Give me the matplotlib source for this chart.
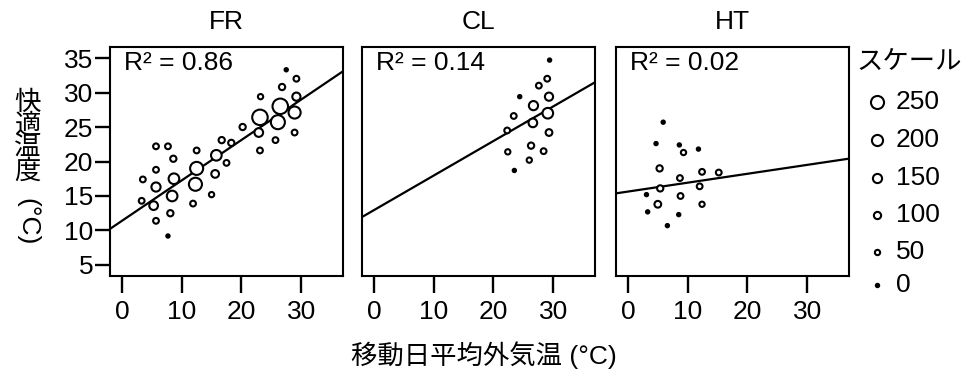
import numpy as np
import matplotlib.pyplot as plt

plt.rcParams['font.family'] = ['Liberation Sans', 'Noto Sans CJK JP', 'DejaVu Sans']

# ---------------------------------------------------------------
# data
# ---------------------------------------------------------------
panels = ["FR", "CL", "HT"]
r2_values = ["0.86", "0.14", "0.02"]

# regression line (intercept, slope)
fit_intercept = [11.4, 12.95, 15.64]
fit_slope = [0.586, 0.501, 0.129]

fr_x = [3.5, 3.3, 5.7, 5.7, 5.7, 5.3, 5.7, 7.7, 7.7, 8.1, 8.6, 8.7, 8.4,
        11.9, 12.5, 12.3, 12.5, 15.0, 15.6, 15.8, 16.7, 17.5, 18.3, 20.2,
        23.1, 22.9, 23.1, 23.2, 25.7, 26.1, 26.5, 26.8, 27.5, 28.9, 29.2,
        29.2, 28.9]
fr_y = [17.4, 14.3, 18.8, 22.2, 16.3, 13.6, 11.4, 22.2, 9.2, 12.5, 20.4,
        17.5, 15.0, 13.9, 21.6, 16.7, 19.0, 15.2, 18.2, 20.9, 23.1, 19.8,
        22.7, 25.0, 21.6, 24.2, 26.4, 29.4, 23.1, 25.7, 28.0, 30.8, 33.3,
        27.1, 29.4, 32.0, 24.2]
fr_n = [50, 50, 50, 50, 120, 110, 50, 50, 0, 60, 60, 150, 150,
        50, 50, 200, 200, 40, 90, 150, 60, 50, 60, 60,
        50, 110, 250, 40, 50, 220, 250, 60, 0, 180, 100,
        50, 50]

cl_x = [29.4, 29.0, 27.6, 24.4, 29.3, 26.7, 29.1, 23.4, 26.6, 22.3, 29.3,
        26.3, 28.4, 22.4, 26.0, 23.5]
cl_y = [34.7, 32.0, 31.0, 29.4, 29.4, 28.1, 27.0, 26.6, 25.6, 24.5, 24.2,
        22.3, 21.5, 21.4, 20.2, 18.7]
cl_n = [0, 50, 50, 0, 100, 120, 150, 50, 110, 50, 70,
        60, 50, 40, 40, 0]

ht_x = [5.9, 4.7, 8.6, 9.3, 11.8, 5.3, 12.4, 15.2, 8.7, 5.4, 12.0, 3.1,
        8.8, 5.0, 12.4, 3.3, 8.5, 6.6]
ht_y = [25.7, 22.6, 22.4, 21.3, 21.8, 19.0, 18.5, 18.4, 17.6, 16.1, 16.4,
        15.2, 15.0, 13.8, 13.8, 12.7, 12.3, 10.7]
ht_n = [0, 0, 0, 40, 0, 60, 50, 50, 50, 60, 50, 0,
        50, 70, 40, 0, 0, 0]

legend_values = [250, 200, 150, 100, 50, 0]

xticks = [0, 10, 20, 30]
yticks = [5, 10, 15, 20, 25, 30, 35]

FS = 19


def marker_size(n):
    # diameter in points grows linearly with the scale value
    d = 2.4 + 0.035 * np.asarray(n, dtype=float)
    return d ** 2


def draw_points(ax, xs, ys, ns):
    ns = np.asarray(ns)
    face = np.where(ns == 0, "black", "white")
    ax.scatter(xs, ys, s=marker_size(ns), facecolors=face,
               edgecolors="black", linewidths=1.5, zorder=3)


fig = plt.figure(figsize=(9.68, 3.76), dpi=100)

lefts = [110, 362, 616]
width = 233
axes = []
for left in lefts:
    ax = fig.add_axes([left / 968, 1 - 276 / 376, width / 968, 229 / 376])
    axes.append(ax)

data = [(fr_x, fr_y, fr_n), (cl_x, cl_y, cl_n), (ht_x, ht_y, ht_n)]

for i, ax in enumerate(axes):
    xs, ys, ns = data[i]
    ax.set_xlim(-2, 37)
    ax.set_ylim(3.4, 36.6)

    ax.axline((0, fit_intercept[i]), slope=fit_slope[i],
              color="black", linewidth=1.6, zorder=2)
    draw_points(ax, xs, ys, ns)

    ax.text(0.06, 0.93, f"R² = {r2_values[i]}", transform=ax.transAxes,
            ha="left", va="center", fontsize=FS)
    ax.set_title(panels[i], fontsize=FS, pad=13)

    ax.set_xticks(xticks)
    ax.set_yticks(yticks)
    ax.tick_params(direction="out", width=1.7, labelsize=FS)
    ax.tick_params(axis="x", length=12, pad=5)
    ax.tick_params(axis="y", length=11, pad=1)
    if i > 0:
        ax.tick_params(axis="y", left=False, labelleft=False)

    for sp in ax.spines.values():
        sp.set_linewidth(1.5)

# y label: stacked characters, then rotated unit
fig.text(27 / 968, 1 - 90 / 376, "快\n適\n温\n度", ha="center", va="top",
         fontsize=FS, linespacing=0.93)
fig.text(27 / 968, 1 - 198 / 376, "(°C)", ha="center", va="top",
         fontsize=FS, rotation=-90)

fig.text(484 / 968, 1 - 355 / 376, "移動日平均外気温 (°C)", ha="center",
         va="center", fontsize=FS)

# size legend
fig.text(856 / 968, 1 - 62 / 376, "スケール", ha="left", va="center",
         fontsize=FS)
leg_y = [102, 140, 178, 215, 252, 285]
leg_ax = fig.add_axes([850 / 968, 0, 118 / 968, 1])
leg_ax.set_xlim(850, 968)
leg_ax.set_ylim(376, 0)
leg_ax.axis("off")
for v, yy in zip(legend_values, leg_y):
    fc = "black" if v == 0 else "white"
    leg_ax.scatter([877], [yy], s=marker_size(v * 0.8), facecolors=fc,
                   edgecolors="black", linewidths=1.5)
    leg_ax.text(896, yy, str(v), ha="left", va="center", fontsize=FS)

fig.savefig("out.png", dpi=100)
